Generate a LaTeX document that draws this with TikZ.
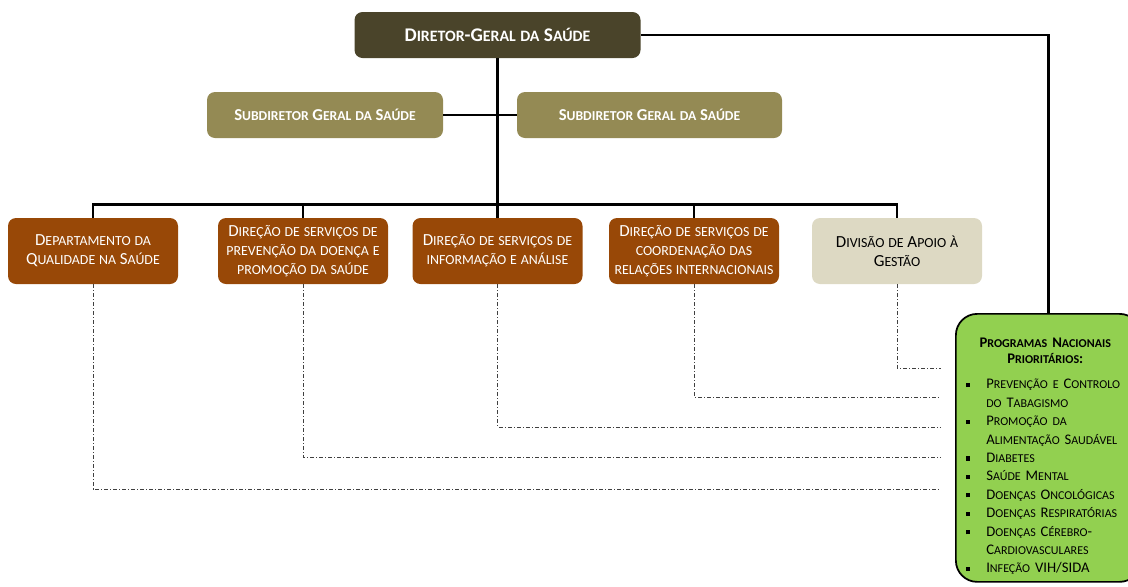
\documentclass[tikz,border=0pt]{standalone}
\usepackage{fontspec}
\setmainfont{Carlito}
\usepackage{xcolor}
\definecolor{dirdark}{HTML}{4A442A}
\definecolor{subolive}{HTML}{948A54}
\definecolor{deptbrown}{HTML}{984807}
\definecolor{apoiotan}{HTML}{DDD9C3}
\definecolor{proggreen}{HTML}{92D050}
\definecolor{dashgray}{HTML}{404040}

% faked small caps (Carlito has none)
\ExplSyntaxOn
\seq_new:N \l__fsc_words_seq
\cs_new_protected:Npn \fsc #1
  {
    \seq_set_split:Nnn \l__fsc_words_seq { ~ } {#1}
    \seq_map_indexed_inline:Nn \l__fsc_words_seq
      {
        \int_compare:nNnT {##1} > {1} { \space }
        \tl_map_function:nN {##2} \__fsc_char:n
      }
  }
\cs_new_protected:Npn \__fsc_char:n #1
  {
    \tl_set:Ne \l_tmpa_tl { \text_uppercase:n {#1} }
    \tl_set:Nn \l_tmpb_tl {#1}
    \tl_if_eq:NNTF \l_tmpa_tl \l_tmpb_tl
      { #1 }
      {
        {
          \fontsize { \fp_eval:n { 0.82 * \use:c { f@size } } }
            { \use:c { f@baselineskip } } \selectfont
          \l_tmpa_tl
        }
      }
  }
\ExplSyntaxOff

\newcommand{\pitem}[1]{\par\noindent\hangindent=18.75pt\hangafter=1
  \makebox[18.75pt][l]{\hspace{3.2pt}\raisebox{0.25ex}{\rule{3.2pt}{3.2pt}}}\fsc{#1}}

\tikzset{
  unitbox/.style={rounded corners=6pt, inner sep=2pt, align=center,
    font=\fontsize{12.7}{14.25}\selectfont},
  topbox/.style={unitbox, fill=dirdark, text=white, minimum width=286*0.75pt,
    minimum height=46*0.75pt, font=\fontsize{14.5}{16}\selectfont\bfseries},
  subbox/.style={unitbox, fill=subolive, text=white, minimum height=46*0.75pt,
    font=\fontsize{12.5}{14}\selectfont\bfseries},
  deptbox/.style={unitbox, fill=deptbrown, text=white, minimum width=170*0.75pt,
    minimum height=66*0.75pt},
  conn/.style={line width=2.2pt, black},
  dashdot/.style={line width=0.7pt, dashgray,
    dash pattern=on 3pt off 1.5pt on 0.75pt off 1.5pt},
}

\begin{document}
\begin{tikzpicture}[x=0.75pt,y=-0.75pt]
  \useasboundingbox (0,0) rectangle (1128,586);

  % direction
  \node[topbox] (dir) at (497.5,35) {\fsc{Diretor-Geral da Saúde}};
  \node[subbox, minimum width=236*0.75pt] (subL) at (325,115) {\fsc{Subdiretor Geral da Saúde}};
  \node[subbox, minimum width=265*0.75pt] (subR) at (649.5,115) {\fsc{Subdiretor Geral da Saúde}};

  % departments
  \node[deptbox] (d1) at (93,251) {\fsc{Departamento da}\\\fsc{Qualidade na Saúde}};
  \node[deptbox] (d2) at (303,251) {\fsc{Direção de serviços de}\\\fsc{prevenção da doença e}\\\fsc{promoção da saúde}};
  \node[deptbox] (d3) at (497.5,251) {\fsc{Direção de serviços de}\\\fsc{informação e análise}};
  \node[deptbox] (d4) at (694,251) {\fsc{Direção de serviços de}\\\fsc{coordenação das}\\\fsc{relações internacionais}};
  \node[deptbox, fill=apoiotan, text=black] (d5) at (897,251) {\fsc{Divisão de Apoio à}\\\fsc{Gestão}};

  % national programmes
  \node[draw=black, line width=1.3pt, fill=proggreen, rounded corners=16pt,
    minimum width=185*0.75pt, minimum height=268*0.75pt, anchor=north west,
    inner sep=0pt] (progs) at (955,313) {};
  \node[anchor=north west, text width=168*0.75pt, inner sep=0pt,
    font=\fontsize{11}{13.8}\selectfont] (progtxt) at (961,338) {%
    \raggedright\hyphenpenalty=10000
    {\centering\bfseries\fontsize{11}{12}\selectfont
      \fsc{Programas Nacionais}\\\fsc{Prioritários:}\par}
    \vspace{5pt}
    \pitem{Prevenção e Controlo do Tabagismo}
    \pitem{Promoção da Alimentação Saudável}
    \pitem{Diabetes}
    \pitem{Saúde Mental}
    \pitem{Doenças Oncológicas}
    \pitem{Doenças Respiratórias}
    \pitem{Doenças Cérebro-Cardiovasculares}
    \pitem{Infeção VIH/SIDA}};

  % hierarchy
  \draw[conn] (dir.south) -- (d3.north);
  \draw[conn] (subL.east) -- (subR.west);
  \draw[conn] (d1.north) -- ++(0,-13) -| (d5.north);
  \foreach \n in {2,3,4}
    \draw[conn] (d\n.north) -- ++(0,-13);
  \draw[conn] (dir.east) -| (progs.north);

  % links to programmes
  \foreach \n/\y in {1/489,2/457,3/427,4/397,5/368}{
    \coordinate (e\n) at (941,\y);
    \draw[dashdot] (d\n.south) |- (e\n);
  }
\end{tikzpicture}
\end{document}
